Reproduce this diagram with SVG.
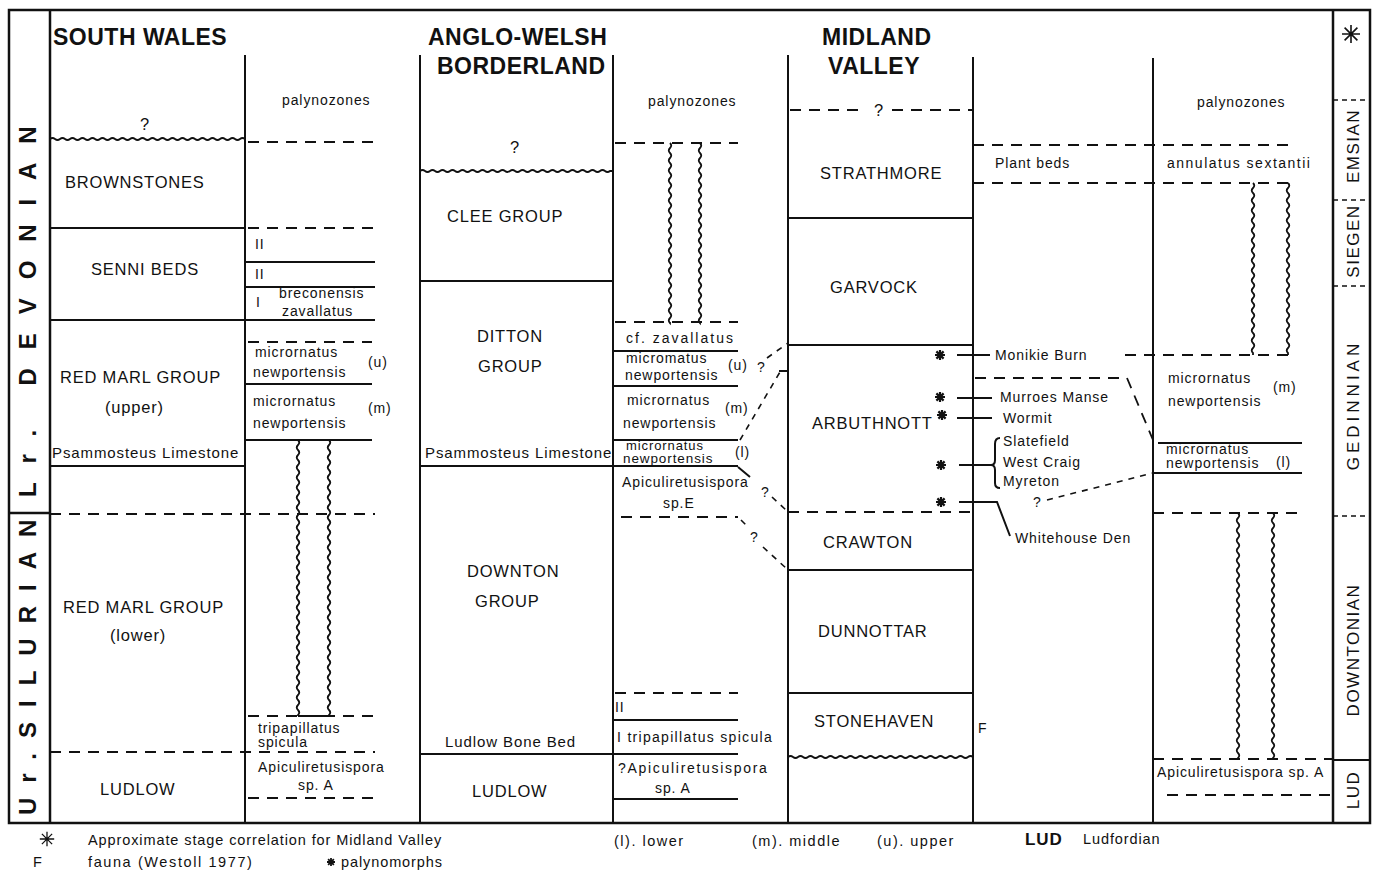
<svg xmlns="http://www.w3.org/2000/svg" xmlns:xlink="http://www.w3.org/1999/xlink" width="1374" height="873" viewBox="0 0 1374 873">
<style>
text{font-family:"Liberation Sans",Arial,sans-serif;fill:#111}
.h{font-size:23px;font-weight:bold;letter-spacing:0.5px}
.lt{font-size:16.5px;letter-spacing:0.8px}
.pz{font-size:14px;letter-spacing:0.9px}
.era{font-size:24px;font-weight:bold}
.stg{font-size:17px;letter-spacing:1.5px}
.lg{font-size:14.5px;letter-spacing:0.9px}
.b{stroke:#111;stroke-width:2.5;fill:none}
.ln{stroke:#111;stroke-width:2;fill:none}
.dl{stroke:#111;stroke-width:1.8;stroke-dasharray:11 8;fill:none}
.ds{stroke:#111;stroke-width:1.5;stroke-dasharray:5 4;fill:none}
.cd{stroke:#111;stroke-width:1.6;stroke-dasharray:6 6;fill:none}
.wv{stroke:#111;stroke-width:1.8;fill:none}
</style>
<defs>
<g id="st"><path d="M-5,0H5M0,-5V5M-3.6,-3.6L3.6,3.6M-3.6,3.6L3.6,-3.6" stroke="#111" stroke-width="2.2"/></g>
<g id="bst"><path d="M-9,0H9M0,-9V9M-6.4,-6.4L6.4,6.4M-6.4,6.4L6.4,-6.4" stroke="#111" stroke-width="1.6"/></g>
</defs>

<g id="frame">
<path class="b" d="M9,10H1370V823H9Z"/>
<path class="b" d="M50,10V823M1333,10V823M9,513H50"/>
<text class="era" transform="translate(36,497) rotate(-90)" letter-spacing="18.9">Lr. DEVONIAN</text>
<text class="era" transform="translate(36,815) rotate(-90)" letter-spacing="15">Ur.SILURIAN</text>
</g>

<g id="south-wales">
<path class="ln" d="M245,55V823"/>
<text class="h" x="53" y="45">SOUTH WALES</text>
<text class="lt" x="145" y="130" text-anchor="middle">?</text>
<path class="wv" d="M50,139q2.5,-2 5,0t5,0t5,0t5,0t5,0t5,0t5,0t5,0t5,0t5,0t5,0t5,0t5,0t5,0t5,0t5,0t5,0t5,0t5,0t5,0t5,0t5,0t5,0t5,0t5,0t5,0t5,0t5,0t5,0t5,0t5,0t5,0t5,0t5,0t5,0t5,0t5,0t5,0t5,0"/>
<text class="lt" x="65" y="188">BROWNSTONES</text>
<path class="ln" d="M50,228H245M50,320H375M50,466H245"/>
<text class="lt" x="91" y="275">SENNI BEDS</text>
<text class="lt" x="60" y="383">RED MARL GROUP</text>
<text class="lt" x="105" y="413">(upper)</text>
<text class="pz" x="52" y="458" style="font-size:15px;letter-spacing:0.9px">Psammosteus Limestone</text>
<path class="dl" d="M50,514H375M50,752H375"/>
<text class="lt" x="63" y="613">RED MARL GROUP</text>
<text class="lt" x="110" y="641">(lower)</text>
<text class="lt" x="100" y="795">LUDLOW</text>
</g>

<g id="south-wales-palynozones">
<text class="pz" x="282" y="105">palynozones</text>
<path class="dl" d="M248,142H375M248,228H375M248,342H372M248,716H375M248,798H375"/>
<path class="ln" d="M245,262H375M245,287H375M245,384H372M245,440H372M298,716H329"/>
<text class="pz" x="255" y="249">II</text>
<text class="pz" x="255" y="279">II</text>
<text class="pz" x="256" y="307">I</text>
<text class="pz" x="279" y="298">breconensis</text>
<text class="pz" x="282" y="316">zavallatus</text>
<text class="pz" x="255" y="357">micrornatus</text>
<text class="pz" x="253" y="377">newportensis</text>
<text class="pz" x="368" y="367">(u)</text>
<text class="pz" x="253" y="406">micrornatus</text>
<text class="pz" x="368" y="413">(m)</text>
<text class="pz" x="253" y="428">newportensis</text>
<path class="wv" d="M298,440q2.5,2.5 0,5t0,5t0,5t0,5t0,5t0,5t0,5t0,5t0,5t0,5t0,5t0,5t0,5t0,5t0,5t0,5t0,5t0,5t0,5t0,5t0,5t0,5t0,5t0,5t0,5t0,5t0,5t0,5t0,5t0,5t0,5t0,5t0,5t0,5t0,5t0,5t0,5t0,5t0,5t0,5t0,5t0,5t0,5t0,5t0,5t0,5t0,5t0,5t0,5t0,5t0,5t0,5t0,5t0,5t0,5L298,716"/>
<path class="wv" d="M329,440q2.5,2.5 0,5t0,5t0,5t0,5t0,5t0,5t0,5t0,5t0,5t0,5t0,5t0,5t0,5t0,5t0,5t0,5t0,5t0,5t0,5t0,5t0,5t0,5t0,5t0,5t0,5t0,5t0,5t0,5t0,5t0,5t0,5t0,5t0,5t0,5t0,5t0,5t0,5t0,5t0,5t0,5t0,5t0,5t0,5t0,5t0,5t0,5t0,5t0,5t0,5t0,5t0,5t0,5t0,5t0,5t0,5L329,716"/>
<text class="pz" x="258" y="733">tripapillatus</text>
<text class="pz" x="258" y="747">spicula</text>
<text class="pz" x="258" y="772">Apiculiretusispora</text>
<text class="pz" x="298" y="790">sp. A</text>
</g>

<g id="anglo-welsh">
<path class="ln" d="M420,55V823M613,55V823"/>
<text class="h" x="428" y="45">ANGLO-WELSH</text>
<text class="h" x="437" y="74">BORDERLAND</text>
<text class="lt" x="515" y="153" text-anchor="middle">?</text>
<path class="wv" d="M420,171q2.5,-2 5,0t5,0t5,0t5,0t5,0t5,0t5,0t5,0t5,0t5,0t5,0t5,0t5,0t5,0t5,0t5,0t5,0t5,0t5,0t5,0t5,0t5,0t5,0t5,0t5,0t5,0t5,0t5,0t5,0t5,0t5,0t5,0t5,0t5,0t5,0t5,0t5,0t5,0L613,171"/>
<text class="lt" x="447" y="222">CLEE GROUP</text>
<path class="ln" d="M420,281H613M420,466H738M420,754H738"/>
<text class="lt" x="477" y="342">DITTON</text>
<text class="lt" x="478" y="372">GROUP</text>
<text class="pz" x="425" y="458" style="font-size:15px;letter-spacing:0.9px">Psammosteus Limestone</text>
<text class="lt" x="467" y="577">DOWNTON</text>
<text class="lt" x="475" y="607">GROUP</text>
<text class="pz" x="445" y="747" style="font-size:15px">Ludlow Bone Bed</text>
<text class="lt" x="472" y="797">LUDLOW</text>
</g>

<g id="anglo-welsh-palynozones">
<text class="pz" x="648" y="106">palynozones</text>
<path class="dl" d="M615,143H738M615,322H738M621,517H738M615,693H738"/>
<path class="wv" d="M670,143q2.5,2.5 0,5t0,5t0,5t0,5t0,5t0,5t0,5t0,5t0,5t0,5t0,5t0,5t0,5t0,5t0,5t0,5t0,5t0,5t0,5t0,5t0,5t0,5t0,5t0,5t0,5t0,5t0,5t0,5t0,5t0,5t0,5t0,5t0,5t0,5t0,5t0,5L670,322"/>
<path class="wv" d="M700,143q2.5,2.5 0,5t0,5t0,5t0,5t0,5t0,5t0,5t0,5t0,5t0,5t0,5t0,5t0,5t0,5t0,5t0,5t0,5t0,5t0,5t0,5t0,5t0,5t0,5t0,5t0,5t0,5t0,5t0,5t0,5t0,5t0,5t0,5t0,5t0,5t0,5t0,5L700,322"/>
<path class="ln" d="M613,351H738M613,386H738M613,440H738M613,720H738M613,799H738"/>
<text class="pz" x="626" y="343" style="letter-spacing:2px">cf. zavallatus</text>
<text class="pz" x="626" y="363">micromatus</text>
<text class="pz" x="625" y="380">newportensis</text>
<text class="pz" x="728" y="370">(u)</text>
<text class="pz" x="627" y="405">micrornatus</text>
<text class="pz" x="725" y="413">(m)</text>
<text class="pz" x="623" y="428">newportensis</text>
<text class="pz" x="626" y="450" style="font-size:13px">micrornatus</text>
<text class="pz" x="623" y="463" style="font-size:13.5px">newportensis</text>
<text class="pz" x="735" y="457">(l)</text>
<text class="pz" x="622" y="487">Apiculiretusispora</text>
<text class="pz" x="663" y="508">sp.E</text>
<text class="pz" x="615" y="712">II</text>
<text class="pz" x="617" y="742" style="letter-spacing:1.3px">I tripapillatus  spicula</text>
<text class="pz" x="618" y="773" style="letter-spacing:1.7px">?Apiculiretusispora</text>
<text class="pz" x="655" y="793">sp. A</text>
</g>

<g id="midland-valley">
<path class="ln" d="M788,55V823M973,57V823"/>
<text class="h" x="822" y="45">MIDLAND</text>
<text class="h" x="828" y="74">VALLEY</text>
<path class="dl" d="M790,110H866M892,110H972"/>
<text class="lt" x="879" y="116" text-anchor="middle">?</text>
<text class="lt" x="820" y="179">STRATHMORE</text>
<path class="ln" d="M788,218H973M788,345H973M788,570H973M788,693H973"/>
<text class="lt" x="830" y="293">GARVOCK</text>
<text class="lt" x="812" y="429">ARBUTHNOTT</text>
<path class="dl" d="M788,512H973"/>
<text class="lt" x="823" y="548">CRAWTON</text>
<text class="lt" x="818" y="637">DUNNOTTAR</text>
<text class="lt" x="814" y="727">STONEHAVEN</text>
<path class="wv" d="M788,757q2.5,-2 5,0t5,0t5,0t5,0t5,0t5,0t5,0t5,0t5,0t5,0t5,0t5,0t5,0t5,0t5,0t5,0t5,0t5,0t5,0t5,0t5,0t5,0t5,0t5,0t5,0t5,0t5,0t5,0t5,0t5,0t5,0t5,0t5,0t5,0t5,0t5,0t5,0"/>
</g>

<g id="midland-localities">
<path class="dl" d="M973,145H1292M973,183H1292M1125,355H1290M975,378H1127L1153,440"/>
<text class="pz" x="995" y="168">Plant beds</text>
<use xlink:href="#st" x="940" y="355"/>
<use xlink:href="#st" x="940" y="397"/>
<use xlink:href="#st" x="942" y="415"/>
<use xlink:href="#st" x="941" y="465"/>
<use xlink:href="#st" x="941" y="502"/>
<path class="ln" d="M957,355H990M957,398H992M957,418H992M959,465H993M959,502H997L1010,536"/>
<path class="ln" d="M1000,438Q995,438 995,444V460Q995,465 991,465Q995,465 995,470V483Q995,488 1000,488" stroke-width="1.6"/>
<text class="pz" x="995" y="360">Monikie Burn</text>
<text class="pz" x="1000" y="402">Murroes Manse</text>
<text class="pz" x="1003" y="423">Wormit</text>
<text class="pz" x="1003" y="446">Slatefield</text>
<text class="pz" x="1003" y="467">West Craig</text>
<text class="pz" x="1003" y="486">Myreton</text>
<text class="pz" x="1015" y="543">Whitehouse Den</text>
<text class="pz" x="1033" y="507">?</text>
<path class="cd" d="M1047,500L1153,473"/>
<text class="pz" x="978" y="733">F</text>
</g>

<g id="midland-palynozones">
<path class="ln" d="M1153,58V823"/>
<text class="pz" x="1197" y="107">palynozones</text>
<text class="pz" x="1167" y="168" style="letter-spacing:1.5px">annulatus sextantii</text>
<path class="wv" d="M1253,183q2.5,2.5 0,5t0,5t0,5t0,5t0,5t0,5t0,5t0,5t0,5t0,5t0,5t0,5t0,5t0,5t0,5t0,5t0,5t0,5t0,5t0,5t0,5t0,5t0,5t0,5t0,5t0,5t0,5t0,5t0,5t0,5t0,5t0,5t0,5t0,5L1253,355"/>
<path class="wv" d="M1288,183q2.5,2.5 0,5t0,5t0,5t0,5t0,5t0,5t0,5t0,5t0,5t0,5t0,5t0,5t0,5t0,5t0,5t0,5t0,5t0,5t0,5t0,5t0,5t0,5t0,5t0,5t0,5t0,5t0,5t0,5t0,5t0,5t0,5t0,5t0,5t0,5L1288,355"/>
<text class="pz" x="1168" y="383">micrornatus</text>
<text class="pz" x="1273" y="392">(m)</text>
<text class="pz" x="1168" y="406">newportensis</text>
<path class="ln" d="M1158,443H1302M1153,473H1302"/>
<text class="pz" x="1166" y="454">micrornatus</text>
<text class="pz" x="1166" y="468">newportensis</text>
<text class="pz" x="1276" y="467">(l)</text>
<path class="dl" d="M1153,513H1305M1153,759H1333M1167,795H1333"/>
<path class="wv" d="M1238,513q2.5,2.5 0,5t0,5t0,5t0,5t0,5t0,5t0,5t0,5t0,5t0,5t0,5t0,5t0,5t0,5t0,5t0,5t0,5t0,5t0,5t0,5t0,5t0,5t0,5t0,5t0,5t0,5t0,5t0,5t0,5t0,5t0,5t0,5t0,5t0,5t0,5t0,5t0,5t0,5t0,5t0,5t0,5t0,5t0,5t0,5t0,5t0,5t0,5t0,5t0,5L1238,759"/>
<path class="wv" d="M1273,513q2.5,2.5 0,5t0,5t0,5t0,5t0,5t0,5t0,5t0,5t0,5t0,5t0,5t0,5t0,5t0,5t0,5t0,5t0,5t0,5t0,5t0,5t0,5t0,5t0,5t0,5t0,5t0,5t0,5t0,5t0,5t0,5t0,5t0,5t0,5t0,5t0,5t0,5t0,5t0,5t0,5t0,5t0,5t0,5t0,5t0,5t0,5t0,5t0,5t0,5t0,5L1273,759"/>
<text class="pz" x="1157" y="777">Apiculiretusispora  sp. A</text>
</g>

<g id="stages">
<use xlink:href="#bst" x="1351" y="34"/>
<path class="ds" d="M1333,100H1370M1333,200H1370M1333,286H1370M1333,516H1370"/>
<path class="ln" d="M1333,760H1370"/>
<text class="stg" transform="translate(1359,146) rotate(-90)" text-anchor="middle">EMSIAN</text>
<text class="stg" transform="translate(1359,241) rotate(-90)" text-anchor="middle">SIEGEN</text>
<text class="stg" transform="translate(1359,405) rotate(-90)" text-anchor="middle" style="letter-spacing:4px">GEDINNIAN</text>
<text class="stg" transform="translate(1359,650) rotate(-90)" text-anchor="middle">DOWNTONIAN</text>
<text class="stg" transform="translate(1359,790) rotate(-90)" text-anchor="middle">LUD</text>
</g>

<g id="connectors">
<path class="cd" d="M767,358L788,343M740,440L780,372M772,497L787,511M741,520L747,526M763,547L787,569"/>
<path class="ln" d="M779,371H788M738,467L750,477" stroke-width="1.8"/>
<text class="pz" x="757" y="372">?</text>
<text class="pz" x="761" y="497">?</text>
<text class="pz" x="750" y="542">?</text>
</g>

<g id="legend">
<use xlink:href="#bst" x="47" y="839" transform="translate(47,839) scale(0.8) translate(-47,-839)"/>
<text class="lg" x="88" y="845">Approximate stage correlation for Midland Valley</text>
<text class="lg" x="33" y="867">F</text>
<text class="lg" x="88" y="867" style="letter-spacing:1.6px">fauna (Westoll 1977)</text>
<use xlink:href="#st" x="331" y="862" transform="translate(331,862) scale(0.8) translate(-331,-862)"/>
<text class="lg" x="341" y="867">palynomorphs</text>
<text class="lg" x="614" y="846" style="letter-spacing:1.5px">(l).  lower</text>
<text class="lg" x="752" y="846" style="letter-spacing:1.5px">(m).  middle</text>
<text class="lg" x="877" y="846" style="letter-spacing:1.5px">(u).  upper</text>
<text class="lg" x="1025" y="845" style="font-size:17px;font-weight:bold">LUD</text>
<text class="lg" x="1083" y="844">Ludfordian</text>
</g>
</svg>
